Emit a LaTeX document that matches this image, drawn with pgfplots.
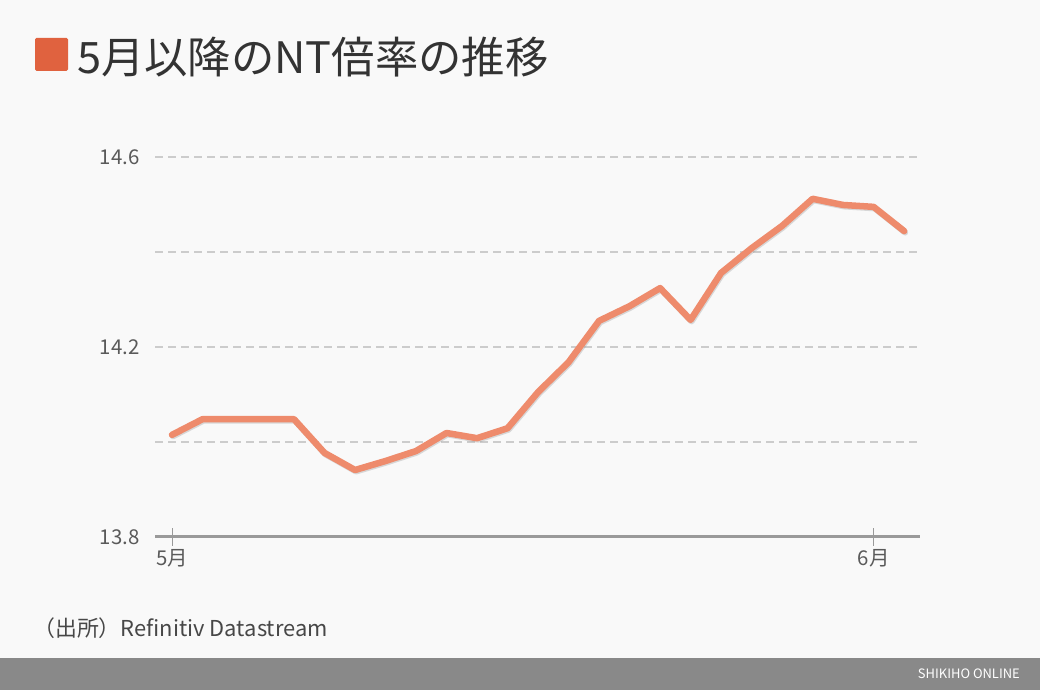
\documentclass[border=0pt]{standalone}
\usepackage{fontspec}
\setmainfont{Noto Sans CJK JP}
\usepackage{pgfplots}
\pgfplotsset{compat=1.18}
\definecolor{bgc}{HTML}{F9F9F9}
\definecolor{footc}{HTML}{898989}
\definecolor{sqc}{HTML}{E0623F}
\definecolor{linec}{HTML}{EE8B6C}
\definecolor{gridc}{HTML}{CCCCCC}
\definecolor{axc}{HTML}{9A9A9A}
\definecolor{txtc}{HTML}{5A5A5A}

\pgfplotstableread{
x y
0 14.015
1 14.048
2 14.048
3 14.048
4 14.048
5 13.977
6 13.941
7 13.960
8 13.981
9 14.019
10 14.008
11 14.029
12 14.105
13 14.168
14 14.255
15 14.286
16 14.324
17 14.257
18 14.356
19 14.408
20 14.455
21 14.512
22 14.499
23 14.495
24 14.444
}\ntratio

\begin{document}
\begin{tikzpicture}[x=1bp,y=1bp]
\fill[bgc] (0,0) rectangle (1040,690);
\fill[footc] (0,0) rectangle (1040,32);
\node[anchor=east,text=white,inner sep=0pt,font=\fontsize{13}{13}\selectfont] at (1020,16) {SHIKIHO ONLINE};
\fill[sqc,rounded corners=1.5bp] (35,619) rectangle (68,652);
\node[anchor=base west,inner sep=0pt,text=black!80,font=\fontsize{43.5}{43.5}\selectfont] at (77,616) {5月以降のNT倍率の推移};
\node[anchor=west,inner sep=0pt,text=black!72,font=\fontsize{22}{22}\selectfont] at (33,62) {（出所）Refinitiv Datastream};
\begin{axis}[
    at={(155bp,153bp)}, anchor=south west,
    scale only axis, width=765bp, height=380bp,
    xmin=-0.557, xmax=24.52,
    ymin=13.8, ymax=14.6,
    axis y line*=left,
    y axis line style={draw=none},
    axis x line*=bottom,
    x axis line style={axc, line width=3bp, -},
    xtick={0,23}, xticklabels={5月,6月},
    xtick style={axc, line width=0.8bp},
    xtick align=center, major tick length=18bp,
    ytick={13.8,14.0,...,14.6},
    ymajorgrids, grid style={gridc, line width=1.2bp, dash pattern=on 8bp off 5bp},
    yticklabels={13.8,,14.2,,14.6},
    ytick style={draw=none},
    yticklabel style={xshift=-12bp},
    tick label style={text=txtc, font=\fontsize{20.5}{20.5}\selectfont},
    /pgf/number format/assume math mode=true,
    clip=false,
]
\addplot[no markers, color=black!40, opacity=0.35, line width=6bp, line join=round, line cap=round, yshift=-1.5bp, xshift=1bp] table {\ntratio};
\addplot[no markers, color=linec, line width=6.5bp, line join=round, line cap=round] table {\ntratio};
\end{axis}
\end{tikzpicture}
\end{document}
